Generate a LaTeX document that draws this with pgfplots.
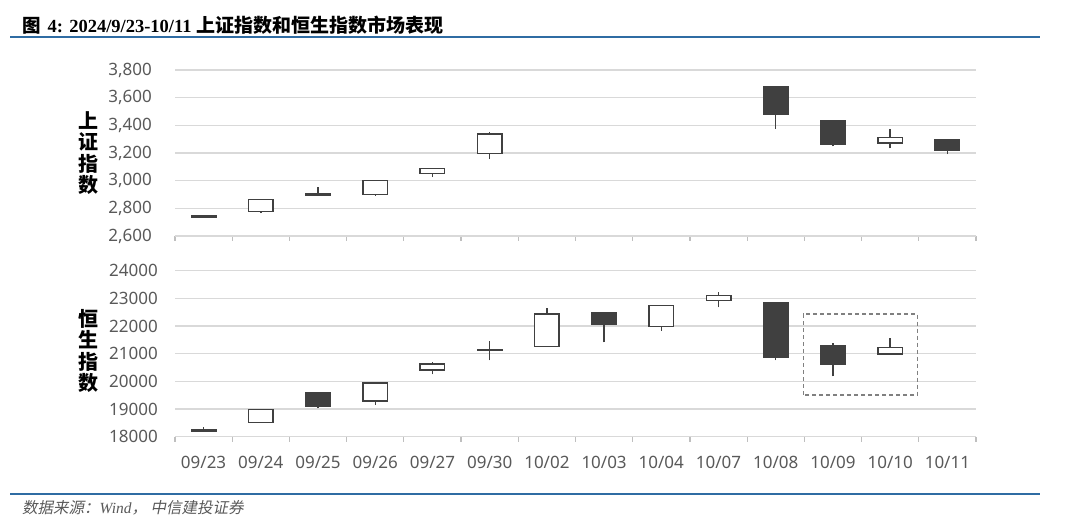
\documentclass[border=0pt]{standalone}
\usepackage{fontspec}
\setmainfont{Noto Sans}
\newfontfamily\cjk{Noto Sans CJK SC}
\newfontfamily\cjkit[FakeSlant=0.2]{Noto Sans CJK SC}
\newfontfamily\serif{Liberation Serif}
\usepackage{pgfplots}
\pgfplotsset{compat=1.18}

\definecolor{gridgray}{RGB}{217,217,217}
\definecolor{tickgray}{RGB}{191,191,191}
\definecolor{textgray}{RGB}{89,89,89}
\definecolor{candle}{RGB}{64,64,64}
\definecolor{rule}{RGB}{47,108,163}

% \candle{pos}{low}{body bottom}{body top}{high}{fill}
\newcommand{\candle}[6]{%
  \pgfmathsetmacro\cxl{#1-0.215}\pgfmathsetmacro\cxr{#1+0.215}%
  \edef\temp{%
    \noexpand\addplot[draw=candle, line width=1.4pt] coordinates {(#1,#2) (#1,#3)};
    \noexpand\addplot[draw=candle, line width=1.4pt] coordinates {(#1,#4) (#1,#5)};
    \noexpand\addplot[draw=candle, fill=#6, line width=1.4pt]
      coordinates {(\cxl,#3) (\cxr,#3) (\cxr,#4) (\cxl,#4)} -- cycle;
  }\temp}

\pgfplotsset{
  kline/.style={
    scale only axis, width=801pt, height=166pt, anchor=south west,
    xmin=-0.5, xmax=13.5,
    axis x line*=bottom, axis y line*=left,
    y axis line style={draw=none}, x axis line style={gridgray, line width=1.2pt},
    ymajorgrids, grid style={gridgray, line width=1.2pt},
    xtick={0,...,13}, major tick length=0pt,
    minor xtick={-0.5,0.5,...,13.5}, minor tick length=5pt, tick align=outside,
    minor tick style={tickgray, line width=1.2pt},
    ytick style={draw=none},
    scaled y ticks=false,
    tick label style={font=\fontsize{17}{20}\selectfont, text=textgray, inner sep=0pt},
    /pgf/number format/assume math mode=true,
    clip=false,
  },
}

\begin{document}
\begin{tikzpicture}
\path[use as bounding box] (0,0) rectangle (1080pt,530pt);

\node[anchor=west, inner sep=0pt] at (22pt,505pt)
  {\fontsize{18.5}{20}\selectfont{\cjk\bfseries 图}\hspace{7pt}{\serif\bfseries 4: 2024/9/23-10/11 }{\cjk\bfseries\fontsize{19}{20}\selectfont 上证指数和恒生指数市场表现}};
\draw[rule, line width=2.6pt] (10pt,493pt) -- (1040pt,493pt);
\draw[rule, line width=2.6pt] (10pt,36pt) -- (1040pt,36pt);
\node[anchor=west, inner sep=0pt, text=textgray] at (22pt,22pt)
  {\fontsize{15.5}{18}\selectfont\cjkit 数据来源：{\serif\itshape Wind}，\ 中信建投证券};

\node[align=center, inner sep=0pt, font={\fontsize{20}{21.5}\selectfont\cjk\bfseries}]
  at (88pt,377pt) {上\\证\\指\\数};
\node[align=center, inner sep=0pt, font={\fontsize{20}{21.5}\selectfont\cjk\bfseries}]
  at (88pt,179pt) {恒\\生\\指\\数};

% 上证指数
\begin{axis}[kline, at={(175pt,294pt)},
  ymin=2600, ymax=3800, ytick={2600,2800,...,3800},
  xticklabels={},
  yticklabel style={xshift=-23pt},
  /pgf/number format/1000 sep={,}]
\candle{0}{2735}{2737}{2749}{2752}{candle}
\candle{1}{2765}{2775}{2864}{2864}{white}
\candle{2}{2896}{2896}{2904}{2955}{candle}
\candle{3}{2896}{2898}{3001}{3001}{white}
\candle{4}{3025}{3050}{3090}{3090}{white}
\candle{5}{3155}{3196}{3338}{3352}{white}
\candle{10}{3374}{3482}{3680}{3680}{candle}
\candle{11}{3247}{3261}{3433}{3433}{candle}
\candle{12}{3234}{3273}{3313}{3376}{white}
\candle{13}{3191}{3216}{3295}{3295}{candle}
\end{axis}

% 恒生指数
\begin{axis}[kline, at={(175pt,93.3pt)},
  ymin=18000, ymax=24000, ytick={18000,19000,...,24000},
  xticklabels={09/23,09/24,09/25,09/26,09/27,09/30,10/02,10/03,10/04,10/07,10/08,10/09,10/10,10/11},
  xticklabel style={yshift=-19pt},
  yticklabel style={xshift=-17pt},
  /pgf/number format/1000 sep={}]
\candle{0}{18200}{18210}{18250}{18360}{white}
\candle{1}{18521}{18521}{18991}{18991}{white}
\candle{2}{19027}{19085}{19580}{19580}{candle}
\candle{3}{19146}{19291}{19941}{19941}{white}
\candle{4}{20256}{20411}{20628}{20700}{white}
\candle{5}{20762}{21115}{21150}{21460}{white}
\candle{6}{21268}{21268}{22435}{22640}{white}
\candle{7}{21412}{22074}{22482}{22482}{candle}
\candle{8}{21821}{21976}{22735}{22735}{white}
\candle{9}{22677}{22916}{23097}{23219}{white}
\candle{10}{20762}{20881}{22844}{22844}{candle}
\candle{11}{20184}{20603}{21290}{21387}{candle}
\candle{12}{20990}{20990}{21232}{21579}{white}
\draw[gray, line width=1.4pt, dash pattern=on 4pt off 3pt]
  (axis cs:10.48,19508) rectangle (axis cs:12.48,22435);
\end{axis}
\end{tikzpicture}
\end{document}
